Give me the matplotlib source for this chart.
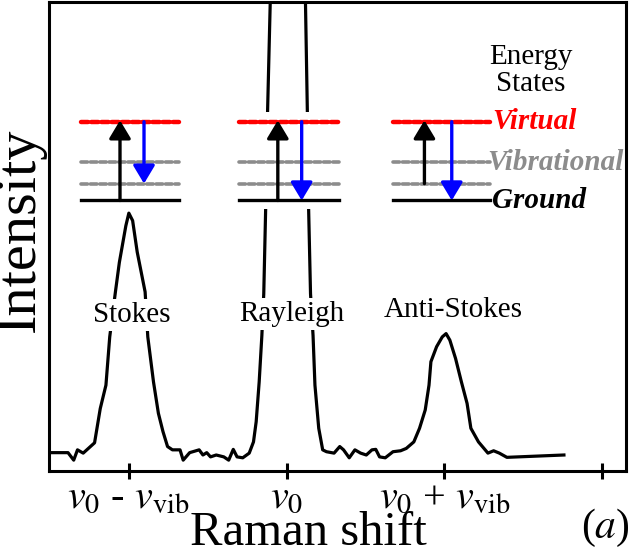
import matplotlib
matplotlib.use("Agg")
from matplotlib import pyplot as plt
from matplotlib.patches import Rectangle

plt.rcParams['font.family'] = ['Liberation Serif', 'DejaVu Serif']
plt.rcParams['mathtext.fontset'] = 'stix'

# spectrum (shift in units of v_vib, intensity arbitrary)
shift = [-1.503, -1.383, -1.347, -1.323, -1.287, -1.215, -1.179, -1.143, -1.119, -1.083,
         -1.058, -1.017, -0.998, -0.974, -0.945, -0.895, -0.878, -0.842, -0.811, -0.782,
         -0.753, -0.722, -0.674, -0.654, -0.613, -0.553, -0.529, -0.505, -0.481, -0.445,
         -0.397, -0.366, -0.337, -0.313, -0.277, -0.236, -0.209, -0.192, -0.173, -0.156,
         -0.144, -0.132, -0.120, -0.103, 0.0, 0.120, 0.132, 0.140, 0.152, 0.168,
         0.180, 0.204, 0.229, 0.253, 0.301, 0.337, 0.361, 0.397, 0.433, 0.469,
         0.505, 0.541, 0.565, 0.589, 0.625, 0.674, 0.722, 0.758, 0.806, 0.842,
         0.878, 0.902, 0.914, 0.950, 0.986, 1.010, 1.034, 1.070, 1.107, 1.143,
         1.167, 1.215, 1.275, 1.311, 1.347, 1.395, 1.756]
intensity = [3.9, 3.9, 2.3, 4.5, 3.8, 6.0, 13.3, 18.3, 28.6, 38.2,
             44.5, 52.3, 55.0, 53.4, 46.7, 38.2, 28.6, 19.0, 12.3, 8.4,
             5.2, 4.5, 4.5, 2.3, 3.9, 4.5, 3.4, 3.9, 3.0, 3.4,
             3.0, 2.3, 4.6, 3.0, 2.8, 3.8, 6.2, 10.5, 19.0, 28.9,
             37.8, 55.9, 76.5, 100.0, 240.0, 100.0, 76.5, 55.9, 37.8, 28.9,
             18.3, 9.1, 4.5, 4.1, 3.8, 5.2, 4.5, 2.8, 4.5, 3.8,
             3.4, 4.5, 4.6, 3.0, 2.8, 4.1, 4.3, 4.8, 6.2, 9.1,
             13.0, 18.3, 23.3, 26.5, 28.6, 29.3, 27.9, 24.0, 19.0, 14.4,
             9.1, 6.2, 3.8, 4.3, 3.8, 2.9, 3.4]

tick_pos = [-1, 0, 1, 2]
tick_labels = [r'$v_0$ - $v_{\mathrm{vib}}$', r'$v_0$', r'$v_0$ + $v_{\mathrm{vib}}$', '']
peak_names = ['Stokes', 'Rayleigh', 'Anti-Stokes']
peak_label_x = [-0.979, 0.031, 1.053]
peak_label_y = [33.2, 33.5, 34.3]

fig = plt.figure(figsize=(6.29, 5.56), dpi=100)
ax = fig.add_axes([0.078, 0.153, 0.917, 0.843])
ax.plot(shift, intensity, color='black', lw=2.3, zorder=1)
ax.set_xlim(-1.503, 2.148)
ax.set_ylim(0, 100)

for s in ax.spines.values():
    s.set_linewidth(2.2)
ax.set_yticks([])
ax.set_xticks(tick_pos)
ax.set_xticklabels(tick_labels, fontsize=29)
ax.tick_params(axis='x', direction='inout', length=12, width=2.2, pad=0)
ax.set_xlabel('Raman shift', fontsize=35, labelpad=0)
ax.xaxis.set_label_coords(0.449, -0.085)
ax.set_ylabel('Intensity', fontsize=42)
ax.yaxis.set_label_coords(-0.006, 0.514)

for name, x, y in zip(peak_names, peak_label_x, peak_label_y):
    ax.text(x, y, name, fontsize=21, ha='center', va='center', zorder=3,
            bbox=dict(facecolor='white', edgecolor='none', pad=2))

# energy level diagrams: (left, right, up arrow x, up start, down arrow x, down end)
diagrams = [(-1.299, -0.681, -1.054, 57.7, -0.902, 61.3),
            (-0.301, 0.330, -0.055, 57.7, 0.096, 57.7),
            (0.674, 1.287, 0.873, 61.3, 1.046, 57.7)]
for left, right, ux, u0, dx, d1 in diagrams:
    ax.add_patch(Rectangle((left - 0.03, 55.9), right - left + 0.06, 20.6,
                           facecolor='white', edgecolor='none', zorder=2))
    ax.plot([left, right], [74.5, 74.5], color='red', lw=3.2, ls=(0, (1.6, 0.7)),
            dash_capstyle='round', zorder=4)
    ax.plot([left, right], [66.0, 66.0], color='#8c8c8c', lw=2.6, ls=(0, (1.8, 0.8)),
            dash_capstyle='round', zorder=4)
    ax.plot([left, right], [61.3, 61.3], color='#8c8c8c', lw=2.6, ls=(0, (1.8, 0.8)),
            dash_capstyle='round', zorder=4)
    ax.plot([left, right], [57.7, 57.7], color='black', lw=2.4, zorder=4)
    ax.annotate('', xy=(ux, 74.8), xytext=(ux, u0), zorder=5,
                arrowprops=dict(arrowstyle='-|>,head_length=0.5,head_width=0.3',
                                color='black', lw=2.4,
                                mutation_scale=22, shrinkA=0, shrinkB=0))
    ax.annotate('', xy=(dx, d1), xytext=(dx, 74.5), zorder=5,
                arrowprops=dict(arrowstyle='-|>,head_length=0.5,head_width=0.3',
                                color='blue', lw=2.4,
                                mutation_scale=22, shrinkA=0, shrinkB=0))

ax.text(1.300, 74.5, 'Virtual', color='red', fontsize=21, style='italic',
        weight='bold', va='center', ha='left', zorder=5)
ax.text(1.272, 65.8, 'Vibrational', color='#8c8c8c', fontsize=21, style='italic',
        weight='bold', va='center', ha='left', zorder=5)
ax.text(1.300, 57.7, 'Ground', color='black', fontsize=21, style='italic',
        weight='bold', va='center', ha='left', zorder=5)
ax.text(1.547, 85.5, 'Energy\nStates', fontsize=21, ha='center', va='center',
        linespacing=1.05, zorder=5)

fig.text(0.962, 0.05, r'($\mathit{a}$)', fontsize=30, ha='center', va='center')

fig.savefig('out.png', dpi=100)
